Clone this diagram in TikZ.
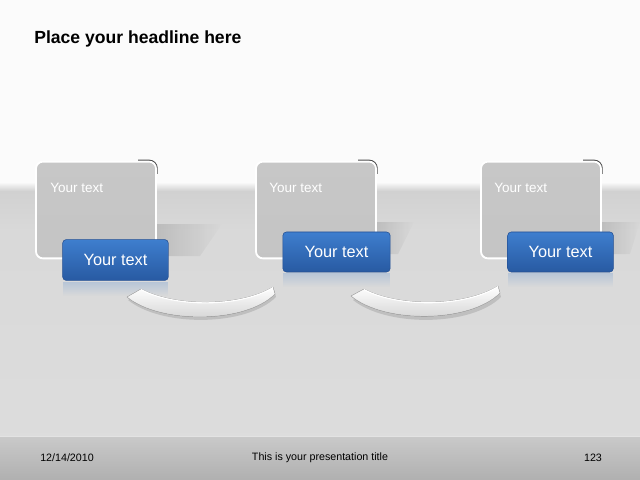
\documentclass[tikz,border=0pt]{standalone}
\usepackage{fontspec}
\setmainfont{Liberation Sans}
\usetikzlibrary{positioning}
\usetikzlibrary{fadings}

\definecolor{boxbluetop}{RGB}{62,126,206}
\definecolor{boxbluebot}{RGB}{40,90,162}
\definecolor{boxblueedge}{RGB}{36,80,148}

\begin{document}
\begin{tikzpicture}[x=0.025cm,y=-0.025cm,
  graybox/.style={rectangle,rounded corners=5pt,draw=white,line width=1.3pt,top color=gray!44,middle color=gray!64,bottom color=gray!46,minimum width=3cm,minimum height=2.42cm,inner sep=0pt},
  bluebox/.style={rectangle,rounded corners=2.5pt,draw=boxblueedge,line width=0.4pt,top color=boxbluetop,bottom color=boxbluebot,minimum width=2.64cm,minimum height=1.02cm,text=white,font=\fontsize{11.6}{13}\selectfont},
  graytext/.style={text=white,font=\fontsize{9.6}{11}\selectfont,anchor=west,inner sep=0pt},
  foottext/.style={text=black,font=\fontsize{7.6}{9}\selectfont,inner sep=0pt},
  boxshadow/.style={fill=black,opacity=0.14,path fading=east},
  reflect/.style={fill=boxbluetop,opacity=0.22,path fading=south},
  corner/.style={draw=black!70,line width=1.2pt,rounded corners=5.5pt},
  bowl/.style={top color=white,bottom color=gray!38,draw=gray!60,line width=0.3pt}]
\useasboundingbox (0,0) rectangle (640,480);

% background
\fill[gray!3] (0,0) rectangle (640,480);
\shade[top color=gray!3,bottom color=gray!36] (0,182) rectangle (640,191);
\shade[top color=gray!36,bottom color=gray!30] (0,191) rectangle (640,230);
\shade[top color=gray!30,bottom color=gray!27] (0,230) rectangle (640,436);
\shade[top color=gray!42,bottom color=gray!62] (0,436) rectangle (640,480);
\draw[gray!22,very thin] (0,436.5) -- (640,436.5);

% headline
\node[font=\bfseries\fontsize{12.5}{15}\selectfont,anchor=base west,inner sep=0pt] (head) at (34,43) {Place your headline here};

% shadows
\fill[boxshadow] (150,224) -- (222,224) -- (200,256) -- (150,256) -- cycle;
\fill[boxshadow] (370,222) -- (414,222) -- (398,254) -- (370,254) -- cycle;
\fill[boxshadow] (595,222) -- (640,222) -- (630,254) -- (595,254) -- cycle;

% gray boxes
\coordinate (g1c) at (96,210);
\coordinate (g2c) at (316,210);
\coordinate (g3c) at (541,210);
\begin{scope}
\clip ([xshift=30pt,yshift=26pt]g1c) rectangle ([xshift=46pt,yshift=38pt]g1c);
\draw[corner] ([xshift=-42.2pt,yshift=-33.8pt]g1c) rectangle ([xshift=43.3pt,yshift=35.2pt]g1c);
\end{scope}
\begin{scope}
\clip ([xshift=30pt,yshift=26pt]g2c) rectangle ([xshift=46pt,yshift=38pt]g2c);
\draw[corner] ([xshift=-42.2pt,yshift=-33.8pt]g2c) rectangle ([xshift=43.3pt,yshift=35.2pt]g2c);
\end{scope}
\begin{scope}
\clip ([xshift=30pt,yshift=26pt]g3c) rectangle ([xshift=46pt,yshift=38pt]g3c);
\draw[corner] ([xshift=-42.2pt,yshift=-33.8pt]g3c) rectangle ([xshift=43.3pt,yshift=35.2pt]g3c);
\end{scope}
\node[graybox] (g1) at (g1c) {};
\node[graybox] (g2) at (g2c) {};
\node[graybox] (g3) at (g3c) {};
\node[graytext] (t1) at (50,188) {Your text};
\node[graytext] (t2) at (269,188) {Your text};
\node[graytext] (t3) at (494,188) {Your text};

% blue boxes
\fill[reflect] (63,282) rectangle (168,296);
\fill[reflect] (283,273) rectangle (390,287);
\fill[reflect] (508,273) rectangle (613,287);
\node[bluebox] (b1) at (115.5,260) {Your text};
\node[bluebox,minimum width=2.68cm,minimum height=1cm] (b2) at (336.5,252) {Your text};
\node[bluebox,minimum height=1cm] (b3) at (560.5,252) {Your text};

% bowls
\fill[black,opacity=0.12] (128,300) -- (144,292) .. controls (176,309) and (241,309) .. (274,290) -- (276,297) .. controls (246,327) and (161,327) .. (128,300) -- cycle;
\filldraw[bowl] (127,297) -- (141,289) .. controls (175,307) and (240,307) .. (273,287) -- (275,294) .. controls (245,324) and (160,324) .. (127,297) -- cycle;
\draw[white,line width=0.8pt] (141,289.6) .. controls (175,307.6) and (240,307.6) .. (273,287.6);
\fill[black,opacity=0.12] (353,300) -- (367,292) .. controls (401,309) and (465,309) .. (499,290) -- (501,297) .. controls (471,327) and (386,327) .. (353,300) -- cycle;
\filldraw[bowl] (351,296) -- (364,289) .. controls (398,307) and (464,307) .. (498,286) -- (500,293) .. controls (470,323) and (385,324) .. (351,296) -- cycle;
\draw[white,line width=0.8pt] (364,289.6) .. controls (398,307.6) and (464,307.6) .. (498,286.6);

% footer
\node[foottext,anchor=west] (date) at (40,458) {12/14/2010};
\node[foottext] (title) at (320,458) {This is your presentation title};
\node[foottext] (page) at (593,458) {123};
\end{tikzpicture}
\end{document}
